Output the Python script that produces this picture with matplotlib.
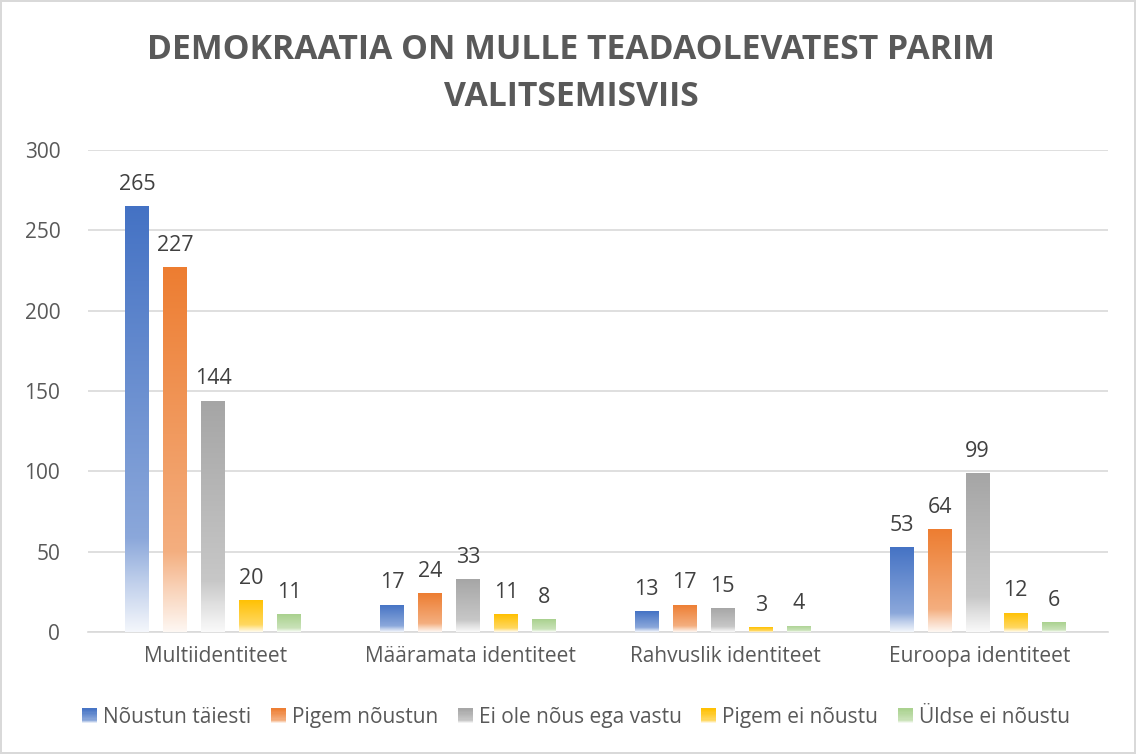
import numpy as np
import matplotlib
matplotlib.use("Agg")
import matplotlib.pyplot as plt
from matplotlib.colors import to_rgb, LinearSegmentedColormap
from matplotlib.patches import Rectangle
from matplotlib.legend_handler import HandlerBase

plt.rcParams['font.family'] = ['Open Sans', 'DejaVu Sans']

# data
categories = ["Multiidentiteet", "Määramata identiteet", "Rahvuslik identiteet", "Euroopa identiteet"]
series_names = ["Nõustun täiesti", "Pigem nõustun", "Ei ole nõus ega vastu", "Pigem ei nõustu", "Üldse ei nõustu"]
noustun_taiesti = [265, 17, 13, 53]
pigem_noustun = [227, 24, 17, 64]
ei_ole = [144, 33, 15, 99]
pigem_ei = [20, 11, 3, 12]
uldse_ei = [11, 8, 4, 6]
values = [noustun_taiesti, pigem_noustun, ei_ole, pigem_ei, uldse_ei]
colors = ["#4472C4", "#ED7D31", "#A5A5A5", "#FFC000", "#A9D18E"]
title = "DEMOKRAATIA ON MULLE TEADAOLEVATEST PARIM\nVALITSEMISVIIS"


def fade_cmap(c):
    # white at the bottom of the bar, full colour at the top
    c = np.array(to_rgb(c))
    w = np.ones(3)
    stops = [(0.0, 0.06), (0.12, 0.35), (0.22, 0.62), (1.0, 1.0)]
    return LinearSegmentedColormap.from_list(
        "fade", [(p, tuple(w + (c - w) * a)) for p, a in stops])


fig = plt.figure(figsize=(11.36, 7.54), dpi=100)
fig.patch.set_edgecolor("#D9D9D9")
fig.patch.set_linewidth(1.5)
ax = fig.add_axes([0.0775, 0.1618, 0.8975, 0.6392])

x = np.arange(len(categories))
width = 0.094
step = 0.149
grad = np.linspace(0, 1, 256).reshape(-1, 1)

for i, (vals, col) in enumerate(zip(values, colors)):
    cmap = fade_cmap(col)
    pos = x + (i - 2) * step - 0.01
    bars = ax.bar(pos, vals, width, color="none", edgecolor="none", zorder=3)
    for b, v in zip(bars, vals):
        x0 = b.get_x()
        im = ax.imshow(grad, cmap=cmap, origin="lower", aspect="auto",
                       extent=(x0, x0 + width, 0, v), zorder=3,
                       interpolation="bilinear")
        im.set_clip_path(b)
        ax.text(b.get_x() + width / 2, v + 7, str(v), ha="center", va="bottom",
                fontsize=15.5, color="#404040", zorder=4)

ax.set_xlim(-0.5, 3.5)
ax.set_ylim(0, 300)
ax.set_yticks(range(0, 301, 50))
ax.set_xticks(x)
ax.set_xticklabels(categories)
ax.tick_params(axis="both", length=0, labelsize=15, colors="#595959")
ax.tick_params(axis="x", pad=10)
ax.tick_params(axis="y", pad=20)
ax.grid(axis="y", color="#D9D9D9", linewidth=1.2, zorder=0)
for s in ["top", "right", "left"]:
    ax.spines[s].set_visible(False)
ax.spines["bottom"].set_color("#D9D9D9")
ax.spines["bottom"].set_linewidth(1.2)

fig.text(0.503, 0.902, title, ha="center", va="center", fontsize=24.3,
         fontweight="bold", color="#595959", linespacing=1.5)


class FadeHandler(HandlerBase):
    def __init__(self, color):
        super().__init__()
        self.cmap = fade_cmap(color)

    def create_artists(self, legend, orig_handle, xdescent, ydescent, width,
                       height, fontsize, trans):
        side = height * 1.0
        x0 = width - side
        y0 = -ydescent + (height - side) / 2
        n = 12
        arts = []
        for k in range(n):
            r = Rectangle((x0, y0 + side * k / n), side, side / n + 0.3,
                          facecolor=self.cmap((k + 0.5) / n), edgecolor="none",
                          transform=trans)
            arts.append(r)
        return arts


handles = [Rectangle((0, 0), 1, 1, color=c) for c in colors]
fig.legend(handles, series_names, loc="center", bbox_to_anchor=(0.508, 0.048),
           ncol=5, frameon=False, fontsize=15, labelcolor="#595959",
           handlelength=0.6, handletextpad=0.3, columnspacing=1.05,
           handler_map={h: FadeHandler(c) for h, c in zip(handles, colors)})

fig.savefig("out.png", dpi=100)
